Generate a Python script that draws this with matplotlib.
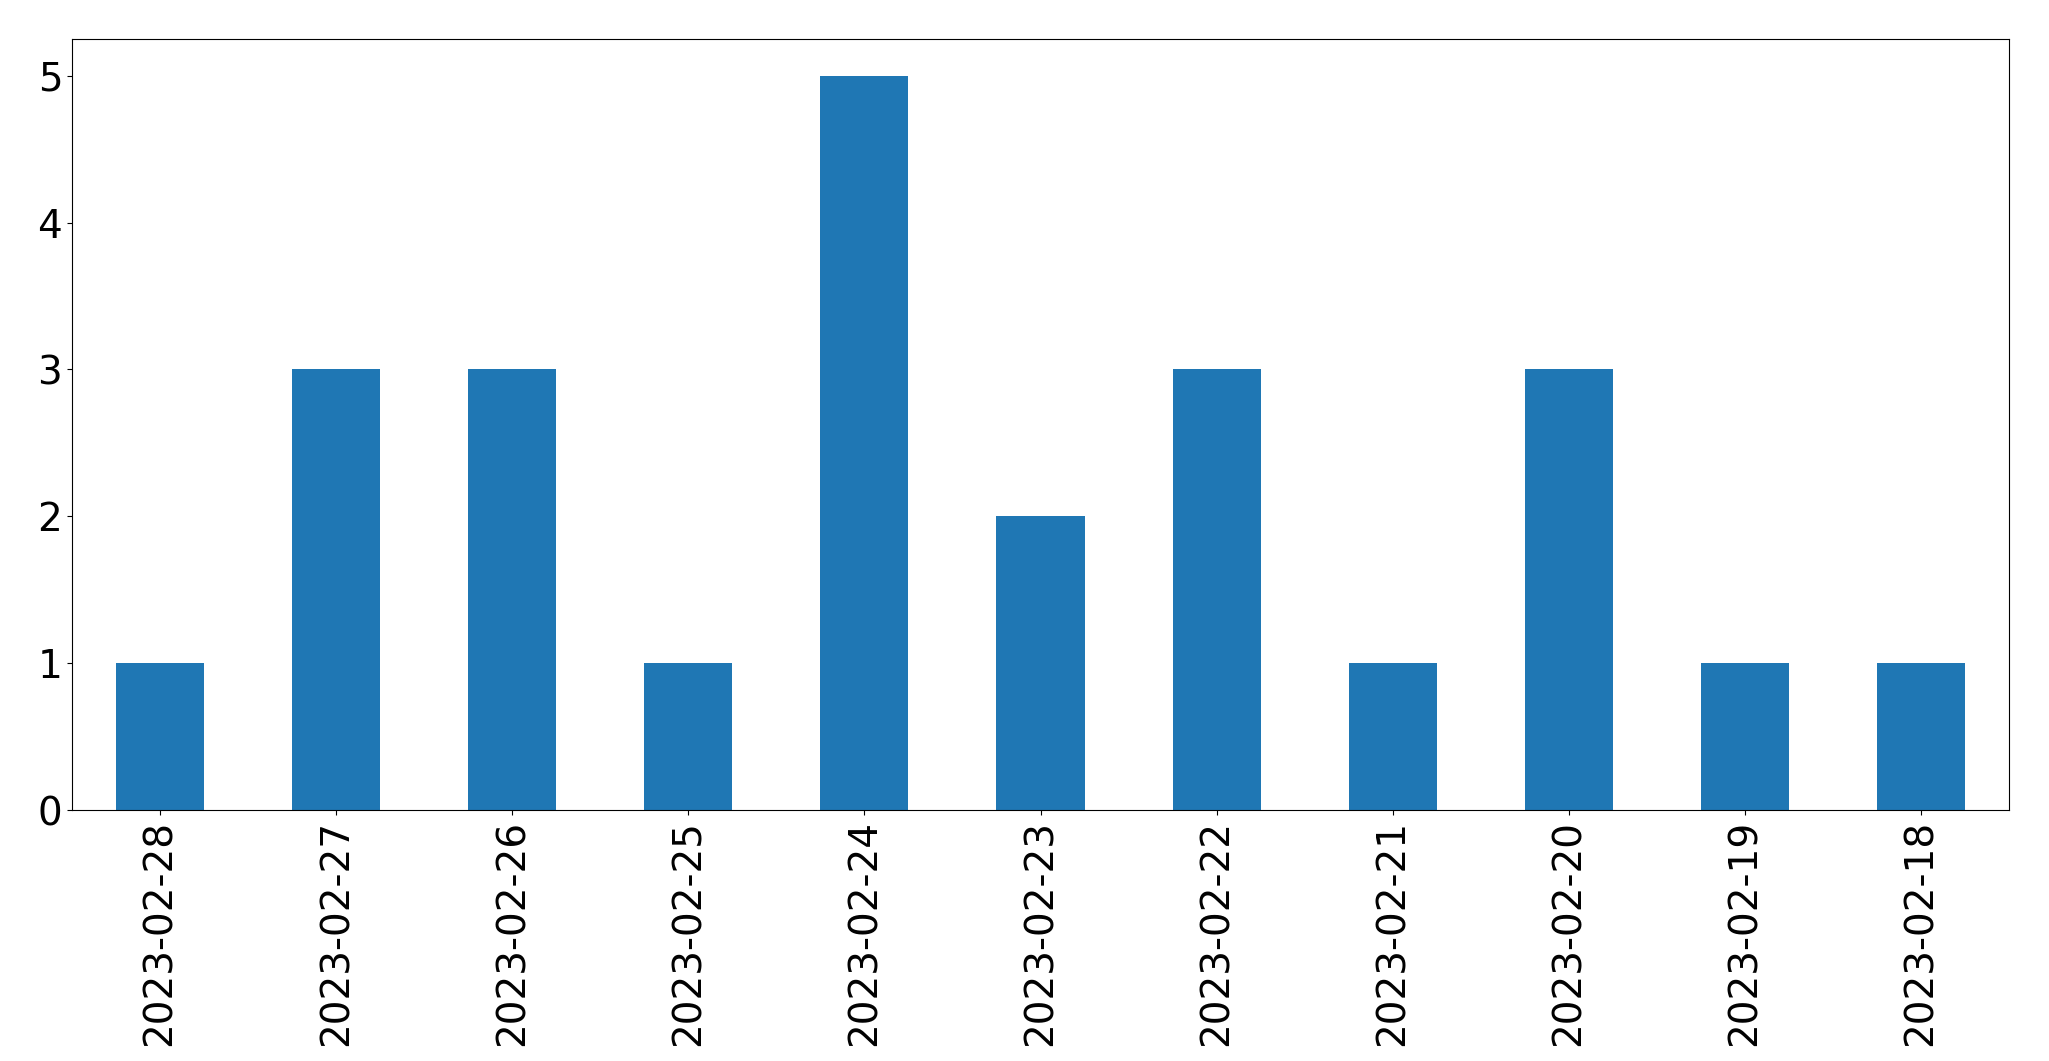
import matplotlib
matplotlib.use("Agg")
import matplotlib.pyplot as plt

dates = ["2023-02-28","2023-02-27","2023-02-26","2023-02-25","2023-02-24","2023-02-23",
         "2023-02-22","2023-02-21","2023-02-20","2023-02-19","2023-02-18"]
counts = [1,3,3,1,5,2,3,1,3,1,1]

fig = plt.figure(figsize=(20.49,10.61), dpi=100)
ax = fig.add_axes([72/2049, 1-810/1061, (2009-72)/2049, (810-39)/1061])
x = range(len(dates))
ax.bar(x, counts, width=0.5, color="#1f77b4")
ax.set_xticks(list(x))
ax.set_xticklabels(dates, rotation=90, fontsize=28)
ax.tick_params(axis='y', labelsize=28)
ax.set_xlim(-0.5, len(dates)-0.5)
ax.set_ylim(0, 5.25)
fig.savefig("out.png", dpi=100)
